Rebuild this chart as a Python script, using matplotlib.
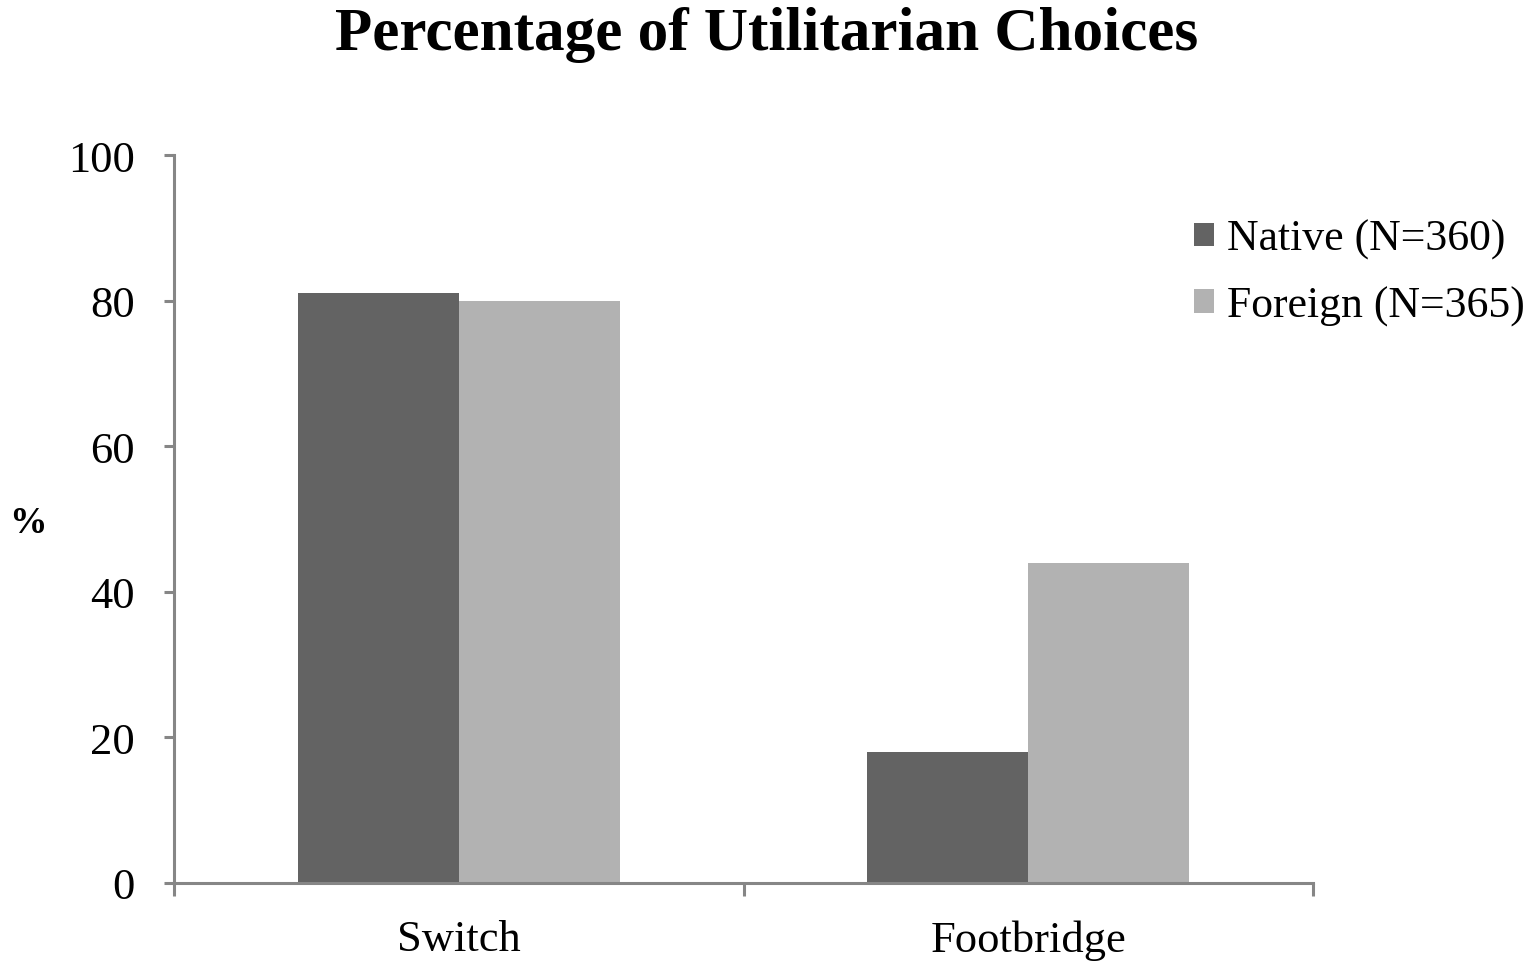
import matplotlib
matplotlib.use("Agg")
import matplotlib.pyplot as plt
import numpy as np

categories = ["Switch", "Footbridge"]
native = [81, 18]
foreign = [80, 44]
series_labels = ["Native (N=360)", "Foreign (N=365)"]
yticks = [0, 20, 40, 60, 80, 100]

plt.rcParams['font.family'] = ['Liberation Serif', 'DejaVu Serif']

fig = plt.figure(figsize=(15.33, 9.70), dpi=100)
ax = fig.add_axes([174/1533, 1-884/970, (1313-174)/1533, (884-156)/970])

axis_color = "#868686"
dark = "#636363"
light = "#b2b2b2"

x = np.arange(len(categories))
w = 0.283
b1 = ax.bar(x - w/2, native, w, color=dark, label=series_labels[0], zorder=2)
b2 = ax.bar(x + w/2, foreign, w, color=light, label=series_labels[1], zorder=2)

ax.set_xlim(-0.5, len(categories) - 0.5)
ax.set_ylim(0, 100)
ax.set_yticks(yticks)
ax.set_yticklabels([str(v) for v in yticks], fontsize=32)
ax.set_xticks(x)
ax.set_xticklabels(categories, fontsize=32)
ax.tick_params(axis='x', length=0, pad=26)
# category boundary ticks
ax.set_xticks([-0.5, 0.5, 1.5], minor=True)
ax.tick_params(axis='x', which='minor', length=9.5, width=2.2, color=axis_color, direction='out')
ax.tick_params(axis='y', length=7.2, width=2.2, color=axis_color, direction='out', pad=21)

for s in ['top', 'right']:
    ax.spines[s].set_visible(False)
for s in ['left', 'bottom']:
    ax.spines[s].set_color(axis_color)
    ax.spines[s].set_linewidth(2.2)

fig.text(0.5, 1-35/970, "Percentage of Utilitarian Choices", ha='center', va='center',
         fontsize=44, fontweight='bold')
fig.text(28/1533, 1-524/970, "%", ha='center', va='center', fontsize=27, fontweight='bold')

leg = fig.legend(handles=[b1, b2], labels=series_labels, loc='upper left',
                 bbox_to_anchor=(1194/1533, 1-220/970), frameon=False, fontsize=31.5,
                 handlelength=0.45, handleheight=0.45, handletextpad=0.3,
                 labelspacing=0.6, borderaxespad=0, borderpad=0)

fig.savefig("out.png", dpi=100)
